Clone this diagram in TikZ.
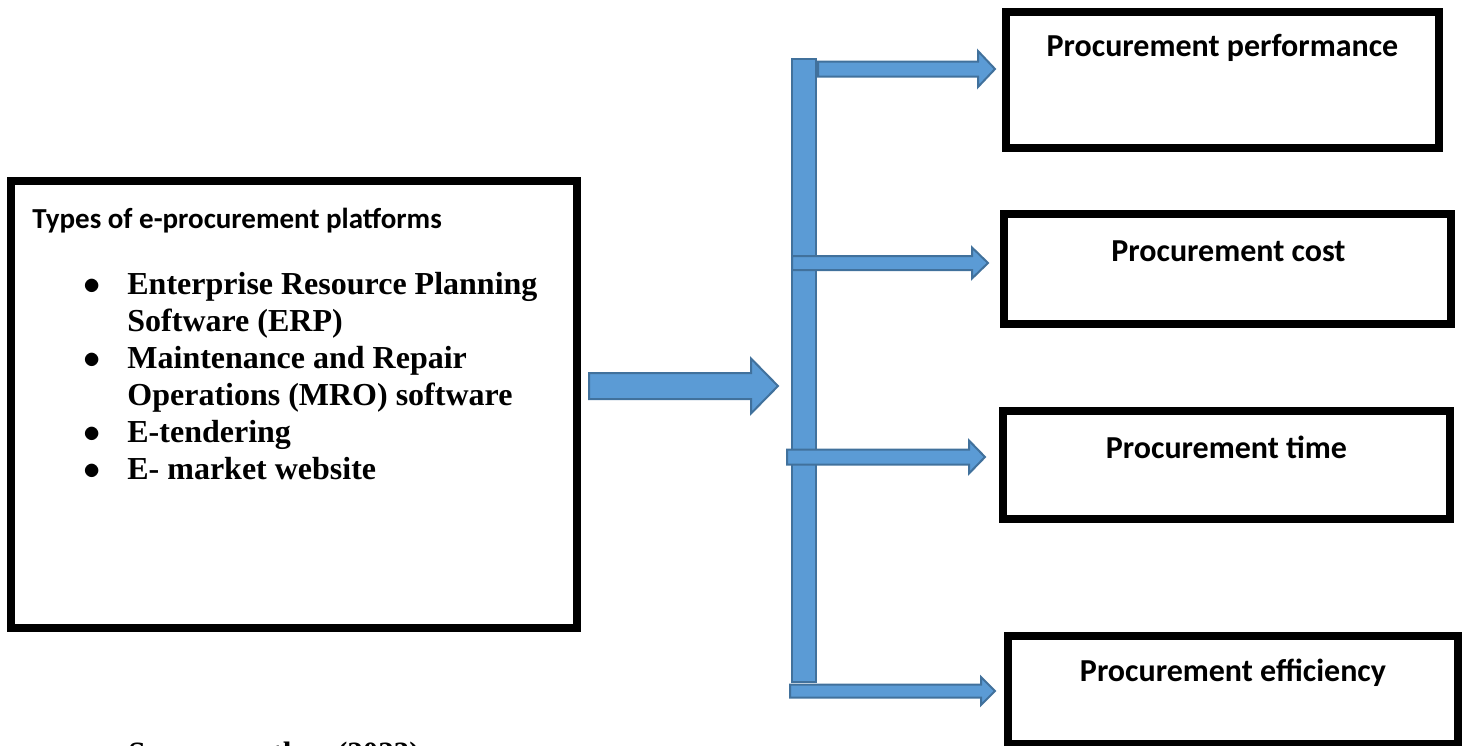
\documentclass[tikz,border=0pt]{standalone}
\usepackage{fontspec}
\setmainfont{Liberation Serif}
\newfontfamily\calibri{Carlito}
\usetikzlibrary{positioning,calc}

\definecolor{arrowblue}{HTML}{5B9BD5}
\definecolor{arrowedge}{HTML}{41719C}

% block arrow: start, tip, shaft half width, head half width, head length
\newcommand{\blockarrow}[5]{%
  \filldraw[flow] ($(#1)+(0,-#3)$) -- ($(#2)+(-#5,-#3)$) -- ($(#2)+(-#5,-#4)$) -- (#2)
    -- ($(#2)+(-#5,#4)$) -- ($(#2)+(-#5,#3)$) -- ($(#1)+(0,#3)$) -- cycle;}

\begin{document}
\begin{tikzpicture}[
    x=0.5pt, y=-0.5pt,
    box/.style={draw, line width=4pt, inner sep=0pt},
    flow/.style={fill=arrowblue, draw=arrowedge, line width=1pt, line join=miter},
    outcome/.style={font=\calibri\bfseries\fontsize{16}{19}\selectfont, inner sep=0pt, anchor=base}
]
\useasboundingbox (0,0) rectangle (1463,745);
\clip (0,0) rectangle (1463,745);

% 左侧方框
\node[box, minimum width=283pt, minimum height=223.5pt] (platforms) at (294,404.5) {};
\node[inner sep=0pt, anchor=base west, font=\calibri\bfseries\fontsize{14.5}{17}\selectfont]
    (title) at ($(platforms.north west)+(25,51)$) {Types of e-procurement platforms};
\node[inner sep=0pt, anchor=base west, align=left] (items) at (83,294) {%
  \fontsize{16}{18.5}\selectfont\bfseries
  \begin{tabular}[t]{@{}l@{}l@{}}
  \makebox[22pt][l]{$\bullet$} & Enterprise Resource Planning\\
   & Software (ERP)\\
  \makebox[22pt][l]{$\bullet$} & Maintenance and Repair\\
   & Operations (MRO) software\\
  \makebox[22pt][l]{$\bullet$} & E-tendering\\
  \makebox[22pt][l]{$\bullet$} & E- market website
  \end{tabular}};

% 右侧方框
\node[box, minimum width=216.5pt, minimum height=68pt] (perf) at (1222.5,80) {};
\node[box, minimum width=223.5pt, minimum height=55pt] (cost) at (1227.5,269) {};
\node[box, minimum width=223.5pt, minimum height=54pt] (time) at (1226.5,465) {};
\node[box, minimum width=225pt, minimum height=54pt] (effic) at (1233,690) {};

% 右侧标签
\node[outcome] (perflabel) at ($(perf.north)+(0,48)$) {Procurement performance};
\node[outcome] (costlabel) at ($(cost.north)+(1,51)$) {Procurement cost};
\node[outcome] (timelabel) at ($(time.north)+(0,51)$) {Procurement time};
\node[outcome] (efficlabel) at ($(effic.north)+(0,49)$) {Procurement efficiency};

% 竖条
\node[flow, minimum width=12pt, minimum height=311.5pt, inner sep=0pt] (bar) at (804,370.5) {};

% 箭头
\coordinate (mainstart) at ($(platforms.east)+(8,-18.5)$);
\coordinate (maintip) at ($(bar.west)+(-13,15.5)$);
\blockarrow{mainstart}{maintip}{13}{27.5}{27}

\coordinate (t1) at ($(perf.west)+(-7,-11)$);
\coordinate (t2) at ($(cost.west)+(-12,-6)$);
\coordinate (t3) at ($(time.west)+(-14,-8)$);
\coordinate (t4) at ($(effic.west)+(-9,1)$);
\coordinate (s1) at ($(bar.east |- t1)+(1,0)$);
\coordinate (s2) at ($(bar.west |- t2)+(1,0)$);
\coordinate (s3) at ($(bar.west |- t3)+(-4,0)$);
\coordinate (s4) at ($(bar.west |- t4)+(-1,0)$);
\blockarrow{s1}{t1}{7.5}{18}{17}
\blockarrow{s2}{t2}{7}{15.5}{16}
\blockarrow{s3}{t3}{7.5}{16.5}{16}
\blockarrow{s4}{t4}{6.5}{14}{14}

% 来源
\node[inner sep=0pt, anchor=base west, font=\bfseries\fontsize{15.5}{18}\selectfont]
    (source) at (128,763) {Source: author (2023)};

\end{tikzpicture}
\end{document}
